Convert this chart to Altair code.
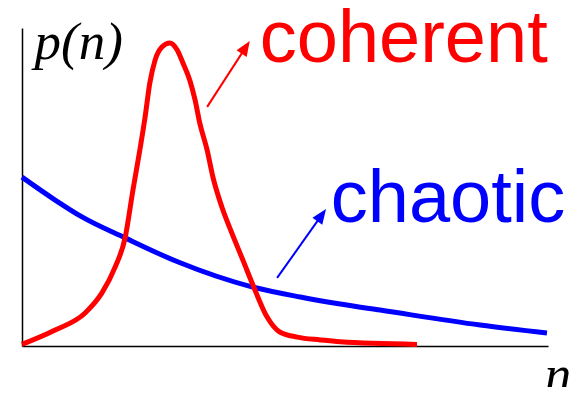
import math
import altair as alt
import pandas as pd

# coherent (red) curve: n, p(n)
coherent_n = [0.0, 6.3, 12.0, 15.2, 17.7, 19.6, 21.1, 22.4, 23.4, 24.3, 25.3, 26.6, 28.1,
              29.5, 30.6, 31.9, 32.9, 33.8, 35.2, 36.3, 38.0, 39.9, 42.0, 43.9, 46.6,
              49.0, 52.3, 56.7, 60.5, 75.1]
coherent_p = [0.5, 5.0, 10.4, 16.7, 24.8, 34.0, 49.1, 61.6, 72.0, 82.7, 89.9, 94.0, 95.3,
              93.1, 89.0, 83.6, 77.4, 70.1, 61.6, 53.1, 43.7, 35.5, 27.0, 19.2, 9.1,
              4.4, 2.8, 1.9, 1.3, 0.5]

# chaotic (blue) curve
chaotic_n = [0.0, 6.3, 11.4, 19.6, 29.7, 43.7, 52.9, 60.5, 68.1, 87.1, 99.8]
chaotic_p = [53.1, 45.9, 40.6, 34.0, 26.4, 18.6, 15.4, 13.2, 11.3, 6.6, 4.1]

# annotations: label, label anchor (n, p), arrow tail (n, p), arrow tip (n, p)
labels = ["coherent", "chaotic"]
label_n = [45.2, 58.7]
label_p = [89.2, 39.0]
tail_n = [35.2, 48.5]
tail_p = [75.2, 21.4]
tip_n = [43.3, 57.8]
tip_p = [95.9, 43.1]
colors = ["#ff0000", "#0000ff"]

axis_labels = ["p(n)", "n"]
axis_label_n = [2.4, 99.4]
axis_label_p = [90.3, -14.6]

W, H = 526, 318
xs = alt.Scale(domain=[0, 100])
ys = alt.Scale(domain=[0, 100])
ax = alt.Axis(title=None, labels=False, ticks=False, grid=False,
              domainColor="black", domainWidth=1.5)

df_coh = pd.DataFrame({"n": coherent_n, "p": coherent_p})
df_cha = pd.DataFrame({"n": chaotic_n, "p": chaotic_p})

blue = alt.Chart(df_cha).mark_line(color="#0000ff", strokeWidth=5, interpolate="monotone").encode(
    x=alt.X("n:Q", scale=xs, axis=ax), y=alt.Y("p:Q", scale=ys, axis=ax))
red = alt.Chart(df_coh).mark_line(color="#ff0000", strokeWidth=5, interpolate="monotone").encode(
    x=alt.X("n:Q", scale=xs), y=alt.Y("p:Q", scale=ys))

layers = [blue, red]

head_path = "M0,0L0.4,1L-0.4,1Z"
for i in range(2):
    frac = 0.87
    end_n = tail_n[i] + frac * (tip_n[i] - tail_n[i])
    end_p = tail_p[i] + frac * (tip_p[i] - tail_p[i])
    df_r = pd.DataFrame({"n": [tail_n[i]], "p": [tail_p[i]], "n2": [end_n], "p2": [end_p]})
    layers.append(alt.Chart(df_r).mark_rule(color=colors[i], strokeWidth=2).encode(
        x=alt.X("n:Q", scale=xs), y=alt.Y("p:Q", scale=ys), x2="n2:Q", y2="p2:Q"))
    dx = (tip_n[i] - tail_n[i]) * W / 100.0
    dy = (tip_p[i] - tail_p[i]) * H / 100.0
    ang = math.degrees(math.atan2(dx, dy))
    df_h = pd.DataFrame({"n": [tip_n[i]], "p": [tip_p[i]]})
    layers.append(alt.Chart(df_h).mark_point(shape=head_path, filled=True, size=900,
                                             color=colors[i], opacity=1, strokeWidth=0,
                                             angle=ang).encode(
        x=alt.X("n:Q", scale=xs), y=alt.Y("p:Q", scale=ys)))
    df_t = pd.DataFrame({"n": [label_n[i]], "p": [label_p[i]], "t": [labels[i]]})
    layers.append(alt.Chart(df_t).mark_text(font="Liberation Sans", fontSize=74, color=colors[i],
                                            align="left", baseline="alphabetic").encode(
        x=alt.X("n:Q", scale=xs), y=alt.Y("p:Q", scale=ys), text="t:N"))

df_ax = pd.DataFrame({"n": axis_label_n, "p": axis_label_p, "t": axis_labels})
layers.append(alt.Chart(df_ax).mark_text(font="Liberation Serif", fontStyle="italic", fontSize=53,
                                         color="black", align="left", baseline="alphabetic").encode(
    x=alt.X("n:Q", scale=xs), y=alt.Y("p:Q", scale=ys), text="t:N"))

chart = alt.layer(*layers).properties(
    width=W, height=H, autosize="none",
    padding={"left": 14, "top": 20, "right": 25, "bottom": 41},
).configure_view(strokeWidth=0)

chart.save("out.html", embed_options={"renderer": "svg", "actions": False})
